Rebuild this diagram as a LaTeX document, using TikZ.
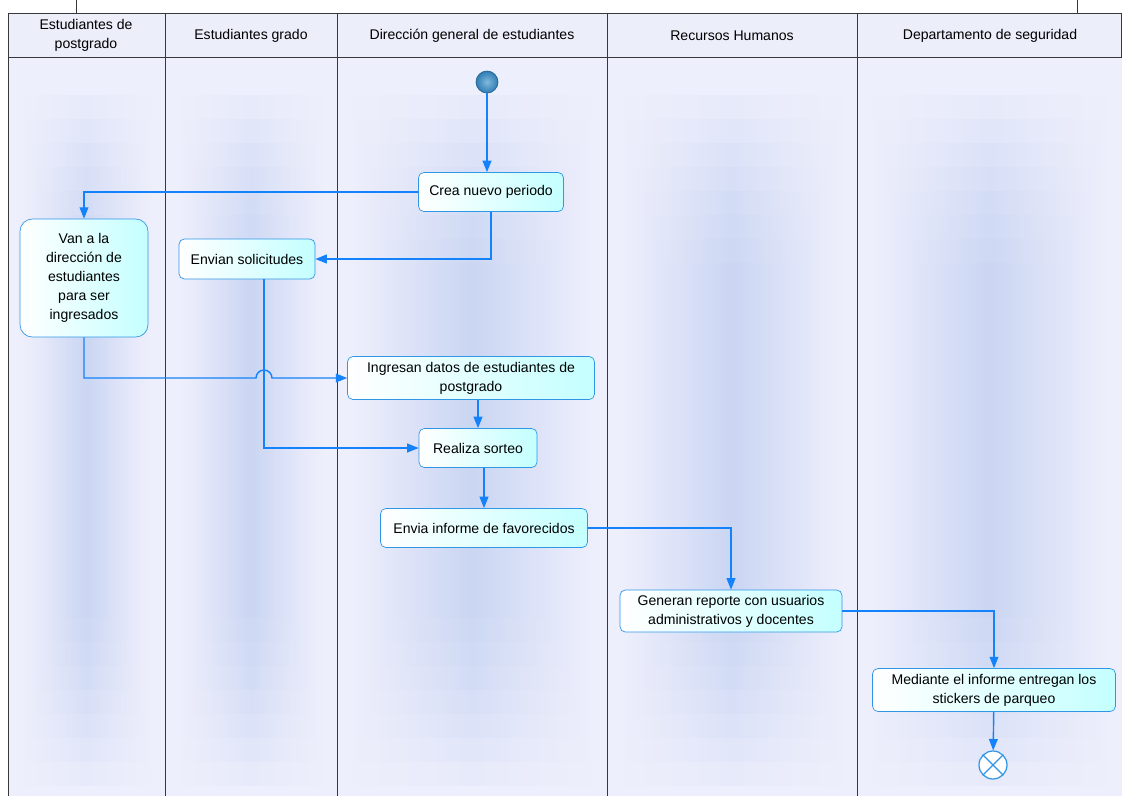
\documentclass[tikz,border=0pt]{standalone}
\usepackage{fontspec}
\setmainfont{Liberation Sans}
\usepackage{tikz}
\usetikzlibrary{arrows.meta,calc}
\definecolor{LaneLine}{RGB}{55,55,60}
\definecolor{LaneBg}{RGB}{238,239,252}
\definecolor{LaneMid}{RGB}{188,205,242}
\definecolor{HeadBg}{RGB}{236,238,250}
\definecolor{FlowBlue}{RGB}{20,130,250}
\definecolor{ActBorder}{RGB}{50,150,230}
\definecolor{ActCyan}{RGB}{196,255,255}
\definecolor{StartBlue}{RGB}{45,125,180}
\definecolor{StartLight}{RGB}{130,185,220}

\begin{document}
\begin{tikzpicture}[
x=0.02cm, y=-0.02cm,
font=\fontsize{8}{10.8}\selectfont,
lanebody/.style={
left color=LaneBg,
right color=LaneBg,
middle color=LaneMid,
draw=none,
fill opacity=0.13
},
act/.style={
draw=ActBorder,
rounded corners=3pt,
left color=white,
right color=ActCyan,
align=center,
inner sep=2pt,
text=black
},
flow/.style={
draw=FlowBlue,
line width=0.8pt,
-{Triangle[length=6.5pt,width=5pt]}
}
]
\useasboundingbox (0,0) rectangle (1122,796);

% swimlanes
\fill[LaneBg] (8,57) rectangle (1122,796);
\foreach \xa/\xb in {8/165,165/337,337/607,607/857,857/1122}{
\foreach \i in {0,...,7}{
\shade[lanebody] ($(\xa,95+\i*24)+(14+\i*2,0)$) rectangle ($(\xb,785-\i*24)+(-14-\i*2,0)$);
}
}
\draw[LaneLine,fill=HeadBg] (8,13) rectangle (1121,57);
\draw[LaneLine] (8,13) -- (8,796);
\foreach \x in {165,337,607,857}{
\draw[LaneLine] (\x,13) -- (\x,796);
}
\draw[LaneLine] (76,0) -- (76,13);
\draw[LaneLine] (1077,0) -- (1077,13);

\node[align=center] (h1) at (86,35) {Estudiantes de\\postgrado};
\node (h2) at (251,36) {Estudiantes grado};
\node (h3) at (472,36) {Direcci\'on general de estudiantes};
\node (h4) at (732,36) {Recursos Humanos};
\node (h5) at (990,36) {Departamento de seguridad};

% activities
\node[circle,draw=StartBlue!80!black,inner color=StartLight,outer color=StartBlue,minimum size=0.44cm,inner sep=0pt] (ini) at (487,82) {};
\node[act,minimum width=2.9cm,minimum height=0.78cm] (crea) at (491,192) {Crea nuevo periodo};
\node[act,rounded corners=7pt,minimum width=2.56cm,minimum height=2.36cm] (van) at (84,278) {Van a la\\direcci\'on de\\estudiantes\\para ser\\ingresados};
\node[act,minimum width=2.72cm,minimum height=0.8cm] (envian) at (247,259) {Envian solicitudes};
\node[act,minimum width=4.94cm,minimum height=0.86cm] (ingresan) at (471,378) {Ingresan datos de estudiantes de\\postgrado};
\node[act,minimum width=2.36cm,minimum height=0.78cm] (realiza) at (478,448) {Realiza sorteo};
\node[act,minimum width=4.14cm,minimum height=0.78cm] (envia) at (484,528) {Envia informe de favorecidos};
\node[act,minimum width=4.44cm,minimum height=0.84cm] (generan) at (731,611) {Generan reporte con usuarios\\administrativos y docentes};
\node[act,minimum width=4.86cm,minimum height=0.86cm] (mediante) at (994,690) {Mediante el informe entregan los\\stickers de parqueo};
\node[circle,draw=ActBorder,fill=white,minimum size=0.56cm,inner sep=0pt,line width=0.7pt] (fin) at (993,765) {};
\draw[ActBorder,line width=0.7pt] (fin.north east) -- (fin.south west) (fin.north west) -- (fin.south east);

\coordinate (jmp) at (264,378);

% flows
\draw[flow] (ini) -- (ini |- crea.north);
\draw[flow] (crea.west) -| (van.north);
\draw[flow] (crea.south) |- (envian.east);
\draw[flow] (van.south) |- ($(jmp)+(-8,0)$) arc[start angle=180,end angle=0,radius=0.16cm] -- (ingresan.west);
\draw[flow] (envian.south -| jmp) |- (realiza.west);
\draw[flow] (ingresan.south -| realiza) -- (realiza.north);
\draw[flow] (realiza.south -| envia) -- (envia.north);
\draw[flow] (envia.east) -| (generan.north);
\draw[flow] (generan.east) -| (mediante.north);
\draw[flow] (mediante) -- (fin);
\end{tikzpicture}
\end{document}
